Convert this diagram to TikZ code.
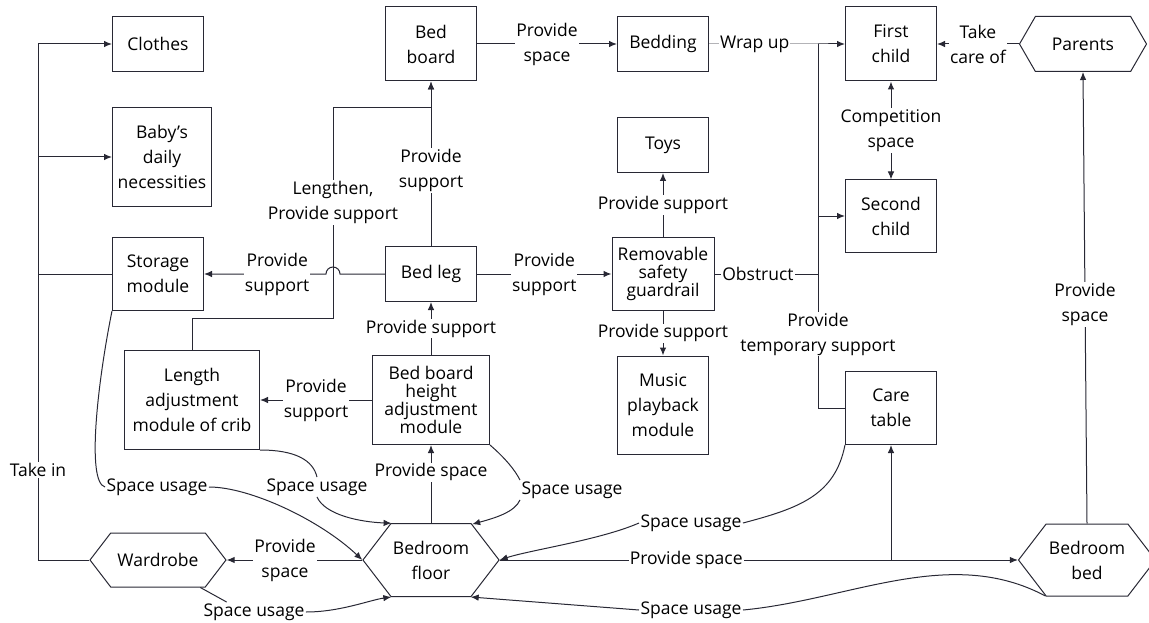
\documentclass[tikz,border=0pt]{standalone}
\usepackage{fontspec}
\setmainfont{Open Sans}
\usetikzlibrary{arrows.meta,shapes.symbols}
\definecolor{ink}{RGB}{40,40,52}
\tikzset{font=\fontsize{17.5}{25}\selectfont}
\tikzset{box/.style={draw=ink,align=center,minimum width=91,minimum height=55,inner sep=2}}
\tikzset{hexa/.style={draw=ink,align=center,signal,signal to=east and west,signal pointer angle=105,inner sep=2}}
\tikzset{lbl/.style={fill=white,align=center,inner sep=1}}
\tikzset{tight/.style={font=\fontsize{17.5}{18}\selectfont}}

\begin{document}
\begin{tikzpicture}[x=1pt,y=-1pt,line width=1pt,draw=ink,>={Latex[length=8,width=6.5]}]
\useasboundingbox (0,0) rectangle (1149,623);
\node[box] (clothes) at (158,44) {Clothes};
\node[box,minimum width=99,minimum height=99] (baby) at (162,157) {Baby's\\daily\\necessities};
\node[box,minimum height=73] (stor) at (158,274) {Storage\\module};
\node[box,minimum height=74] (board) at (431,44) {Bed\\board};
\node[box] (bedding) at (663,44) {Bedding};
\node[box,minimum height=74] (first) at (891,44) {First\\child};
\node[hexa,signal pointer angle=120,minimum width=127,minimum height=55] (parents) at (1083,44) {Parents};
\node[box] (toys) at (663,145) {Toys};
\node[box,minimum height=72] (second) at (891,216) {Second\\child};
\node[box] (leg) at (431,274) {Bed leg};
\node[box,tight,minimum width=102,minimum height=73] (rail) at (663,274) {Removable\\safety\\guardrail};
\node[box,minimum width=135,minimum height=99] (len) at (192,400) {Length\\adjustment\\module of crib};
\node[box,tight,minimum width=117,minimum height=89] (height) at (431,400) {Bed board\\height\\adjustment\\module};
\node[box,minimum height=98] (music) at (663,405) {Music\\playback\\module};
\node[box,minimum height=73] (care) at (891,408) {Care\\table};
\node[hexa,minimum width=136,minimum height=54] (ward) at (158,560) {Wardrobe};
\node[hexa,minimum width=135,minimum height=73] (floor) at (431,560) {Bedroom\\floor};
\node[hexa,minimum width=137,minimum height=72] (bed) at (1087,560) {Bedroom\\bed};
\node[lbl] (su1) at (157,487) {Space usage};
\node[lbl] (su2) at (317,487) {Space usage};
\node[lbl] (su3) at (572,490) {Space usage};
\node[lbl] (su4) at (691,523) {Space usage};
\node[lbl] (su5) at (254,612) {Space usage};
\node[lbl] (su6) at (691,610) {Space usage};
\coordinate (lbusT) at (38,44);
\coordinate (lbusB) at (38,560);
\coordinate (rbus) at (818,44);
\coordinate (lenT) at (333,318);
\coordinate (lenB) at (333,108);
\draw[->] (ward.west) -- (lbusB) -- node[lbl,pos=0.174]{Take in} (lbusT) -- (clothes.west);
\draw[->] (lbusT |- baby.west) -- (baby.west);
\draw (stor.west) -- (lbusT |- stor.west);
\draw[->] (board.east) -- node[lbl]{Provide\\space} (bedding.west);
\draw[->] (bedding.east) -- node[lbl,pos=0.42]{Wrap up} (rbus) -- (first.west);
\draw[->] (rbus |- second.west) -- (second.west);
\draw (rail.east) -- node[lbl,pos=0.42]{Obstruct} (rbus |- rail.east);
\draw (care.west) -- (rbus |- care.west) -- node[lbl,pos=0.203]{Provide\\temporary support} (rbus);
\draw[->] (parents.west) -- node[lbl]{Take\\care of} (first.east);
\draw[<->] (first.south) -- node[lbl]{Competition\\space} (second.north);
\draw[->] (bed.north) -- node[lbl,pos=0.485]{Provide\\space} (parents.south);
\draw[->] (leg.north) -- node[lbl,pos=0.46]{Provide\\support} (board.south);
\draw[->] (len.north) |- (lenT) -- node[lbl,pos=0.55]{Lengthen,\\Provide support} (lenB) -| (board.south);
\draw[->] (leg.west) -- (340,274) arc[start angle=0,end angle=-180,radius=7] -- node[lbl,pos=0.4]{Provide\\support} (stor.east);
\draw[->] (leg.east) -- node[lbl]{Provide\\support} (rail.west);
\draw[->] (rail.north) -- node[lbl]{Provide support} (toys.south);
\draw[->] (rail.south) -- node[lbl]{Provide support} (music.north);
\draw[->] (height.north) -- node[lbl]{Provide support} (leg.south);
\draw[->] (height.west) -- node[lbl]{Provide\\support} (len.east);
\draw[->] (floor.north) -- node[lbl,pos=0.65]{Provide space} (height.south);
\draw[->] (floor.west) -- node[lbl,pos=0.57]{Provide\\space} (ward.east);
\draw[->] (floor.east) -- node[lbl,pos=0.36]{Provide space} (bed.west);
\draw[->] (care.south |- floor.east) -- (care.south);
\draw (stor.south west) .. controls (98,380) and (86,482) .. (su1.west);
\draw[->] (su1.east) .. controls (250,487) and (320,520) .. (floor.west);
\draw (len.south east) .. controls (295,450) and (313,460) .. (su2.north);
\draw[->] (su2.south) .. controls (325,515) and (360,522) .. (floor.137);
\draw (height.south east) .. controls (505,458) and (515,470) .. (su3.north west);
\draw[->] (su3.south west) .. controls (515,512) and (495,518) .. (floor.41);
\draw (care.south west) .. controls (835,495) and (800,508) .. (su4.east);
\draw[->] (su4.west) .. controls (600,540) and (530,550) .. (floor.east);
\draw (ward.327) -- (su5.160);
\draw[->] (su5.east) .. controls (340,612) and (370,600) .. (floor.223);
\draw (bed.221) .. controls (950,545) and (850,600) .. (su6.east);
\draw[->] (su6.west) -- (floor.317);
\end{tikzpicture}
\end{document}
